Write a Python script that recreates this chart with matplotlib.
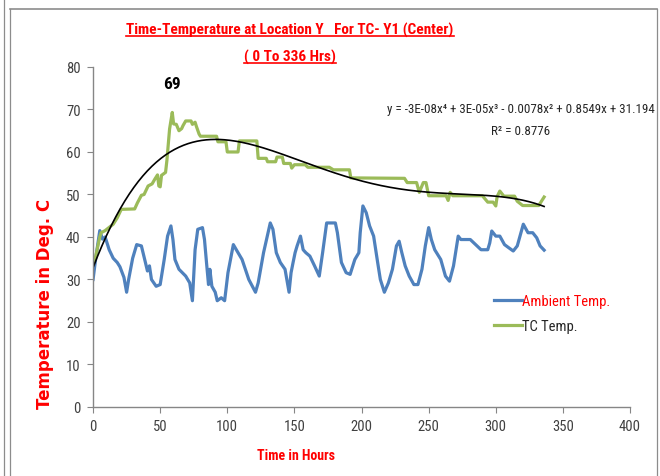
import numpy as np
import matplotlib
matplotlib.use('Agg')
import matplotlib.pyplot as plt
from matplotlib.lines import Line2D
from matplotlib import font_manager as fm

# TC temperature (green)
tc_hours = [0, 2, 5, 6, 9, 13, 15, 18, 21, 31, 33, 36, 38, 41, 44, 46, 48, 49, 50, 51,
            54, 55, 57, 59, 60, 62, 64, 66, 67, 69, 73, 74, 76, 77, 79, 80, 92, 93, 99, 100,
            108, 109, 122, 123, 129, 130, 136, 137, 141, 142, 147, 148, 150, 158, 160, 176,
            179, 191, 192, 232, 234, 241, 243, 246, 248, 250, 263, 264.5, 266, 268, 290,
            294, 298, 300, 301, 303, 306, 314, 316, 320, 332, 336]
tc_temp = [34, 35.5, 40, 41, 41.5, 42.5, 43, 44.5, 46.5, 46.6, 48, 49.8, 50, 52, 52.5, 53.6,
           54.6, 52, 51.8, 54.5, 55.2, 58, 65.4, 69.3, 66.6, 66.5, 65, 65.5, 66.2, 67.3, 67.3,
           66.5, 67, 66, 64.2, 63.7, 63.7, 62.4, 62.4, 60, 60, 62.6, 62.6, 58.5, 58.5, 57.7,
           57.7, 58.8, 58.8, 57.3, 57.3, 56.2, 57, 57, 56.4, 56.4, 55.8, 55.8, 53.9, 53.8,
           52.8, 52.8, 50.5, 52.8, 52.8, 49.7, 49.7, 48.6, 50.5, 49.7, 49.7, 48.2, 48.2, 47.3,
           49.5, 50.8, 49.6, 49.6, 48.4, 47.4, 47.4, 49.4]

# ambient temperature (blue)
amb_hours = [0, 2, 5, 7, 9, 12, 15, 18, 20, 23, 25, 26.5, 29.5, 32.5, 36, 39, 40.5, 42, 43.5,
             47, 50, 53, 55.5, 58, 59.5, 61, 64, 69, 72, 74, 76, 78, 81.5, 83, 84.5, 86, 87,
             88.5, 91, 92.5, 95.5, 98, 100.5, 104.5, 108, 111, 116, 121, 123, 127, 132, 134,
             136.5, 139.5, 143, 146, 147.5, 149, 150.5, 152, 154.5, 156.5, 158.5, 161.5, 165,
             168.5, 171, 174, 180.5, 182, 185, 188.5, 191.5, 195, 198, 199, 201, 203.5, 206,
             209, 212, 214, 217, 220, 223, 226, 228, 230, 232.5, 235.5, 239, 242, 245, 247.5,
             250, 252, 254.5, 259, 262.5, 265.5, 268.5, 272, 274, 277, 281, 286, 289, 294,
             295.5, 297, 300, 303, 306.5, 309.5, 313, 316, 320.5, 324, 327.5, 330.5, 333, 336]
amb_temp = [30, 35, 41.5, 39.5, 40, 37, 35, 34, 33, 30.5, 27, 30, 35, 38.2, 37.9, 34, 32, 33.2,
            30, 28.4, 28.8, 34.7, 40.2, 42.6, 39.4, 34.7, 32.4, 30.8, 29.2, 25, 37, 41.8, 42.2,
            39.4, 34, 28.8, 32.4, 28.4, 27, 25, 25.7, 25, 31.6, 38.2, 36.3, 34.7, 30, 27, 29.2,
            36.3, 43.3, 41.8, 36.3, 34, 32.4, 27, 31.6, 34, 36.3, 37.9, 40.2, 37, 36.3, 35.5,
            33.2, 30.8, 36.3, 43.3, 43.3, 41, 34, 31.6, 31.2, 34.7, 36.3, 41, 47.3, 45.7, 42.6,
            40.2, 34, 30, 27, 29.2, 32.4, 37.9, 39, 36.3, 33.2, 30.8, 28.8, 28.8, 32.4, 37.9,
            42.2, 39.4, 37, 34.7, 30.8, 29.6, 33.2, 40.2, 39.4, 39.4, 39.4, 37.9, 37, 37, 38.6,
            41.4, 40.2, 40.2, 38.2, 37.5, 36.7, 37.9, 43, 41, 41, 39.8, 37.9, 36.9]

xticks = [0, 50, 100, 150, 200, 250, 300, 350, 400]
yticks = [0, 10, 20, 30, 40, 50, 60, 70, 80]


def pick(names):
    # first font that is really installed
    for n in names:
        try:
            fm.findfont(fm.FontProperties(family=n), fallback_to_default=False)
            return n
        except ValueError:
            pass
    return 'DejaVu Sans'


nf = pick(['Liberation Sans Narrow', 'DejaVu Sans Condensed', 'Roboto Condensed',
           'Liberation Sans'])
narrow = [nf, 'DejaVu Sans']
red = '#FF0000'

fig = plt.figure(figsize=(6.6, 4.77), dpi=100)
ax = fig.add_axes([0.141, 0.1447, 0.8136, 0.7128])

ax.plot(amb_hours, amb_temp, color='#4F81BD', lw=2.3, label='Ambient Temp.', solid_joinstyle='round')
ax.plot(tc_hours, tc_temp, color='#9BBB59', lw=2.3, label='TC Temp.', solid_joinstyle='round')

# 4th order trendline, like excel
coef = np.polyfit(tc_hours, tc_temp, 4)
xx = np.linspace(0, 336, 300)
ax.plot(xx, np.polyval(coef, xx), color='black', lw=1.2)

ax.set_xlim(0, 400)
ax.set_ylim(0, 80)
ax.set_xticks(xticks)
ax.set_yticks(yticks)
ax.set_xticklabels([str(t) for t in xticks], family=narrow, fontsize=10.5, color='#404040')
ax.set_yticklabels([str(t) for t in yticks], family=narrow, fontsize=10.5, color='#404040')
ax.tick_params(direction='out', length=4, width=0.8, color='#868686', pad=5)
for s in ['top', 'right']:
    ax.spines[s].set_visible(False)
for s in ['left', 'bottom']:
    ax.spines[s].set_color('#868686')
    ax.spines[s].set_linewidth(1.0)

ax.text(58.8, 76, '69', ha='center', va='center', fontsize=12.5, fontweight='bold',
        family=narrow, color='black')

fig.text(521 / 660, 1 - 109 / 477, 'y = -3E-08x⁴ + 3E-05x³ - 0.0078x² + 0.8549x + 31.194',
         ha='center', va='center', fontsize=9.4, family=narrow, color='#262626')
fig.text(521 / 660, 1 - 132 / 477, 'R² = 0.8776', ha='center', va='center',
         fontsize=9.4, family=narrow, color='#262626')

leg = ax.legend(loc='center left', bbox_to_anchor=(0.722, 0.275), frameon=False,
                handlelength=1.9, handletextpad=0.05, labelspacing=0.75,
                prop={'family': narrow, 'size': 10.5})
leg.get_texts()[0].set_color(red)
leg.get_texts()[1].set_color('#262626')

t1 = fig.text(290 / 660, 1 - 30 / 477, 'Time-Temperature at Location Y   For TC- Y1 (Center)',
              ha='center', va='center', fontsize=11, fontweight='bold', family=narrow, color=red)
t2 = fig.text(290 / 660, 1 - 57 / 477, '( 0 To 336 Hrs)', ha='center', va='center',
              fontsize=11, fontweight='bold', family=narrow, color=red)

fig.text(45 / 660, 1 - 304 / 477, 'Temperature in Deg. C', rotation=90, ha='center', va='center',
         fontsize=12, fontweight='bold', color=red)
fig.text(296 / 660, 1 - 456 / 477, 'Time in Hours', ha='center', va='center',
         fontsize=10, fontweight='bold', family=narrow, color=red)

# underline the title lines
fig.canvas.draw()
inv = fig.transFigure.inverted()
for t in [t1, t2]:
    bb = t.get_window_extent()
    (x0, y0), (x1, _) = inv.transform([(bb.x0, bb.y0), (bb.x1, bb.y1)])
    fig.add_artist(Line2D([x0, x1], [y0 + 0.002, y0 + 0.002], transform=fig.transFigure,
                          color=red, lw=1.2))

# frame lines around the chart
W, H = 660, 477
gray = '#8C8C8C'
fig.add_artist(Line2D([3.5 / W, 3.5 / W], [0, 1], transform=fig.transFigure, color=gray, lw=0.9))
fig.add_artist(Line2D([9.5 / W, 9.5 / W], [0, 1 - 10 / H], transform=fig.transFigure, color=gray, lw=0.9))
fig.add_artist(Line2D([9.5 / W, 657 / W], [1 - 10 / H, 1 - 10 / H], transform=fig.transFigure, color=gray, lw=1.2))
fig.add_artist(Line2D([657 / W, 657 / W], [0, 1 - 10 / H], transform=fig.transFigure, color=gray, lw=0.9))

fig.savefig('out.png', dpi=100)
